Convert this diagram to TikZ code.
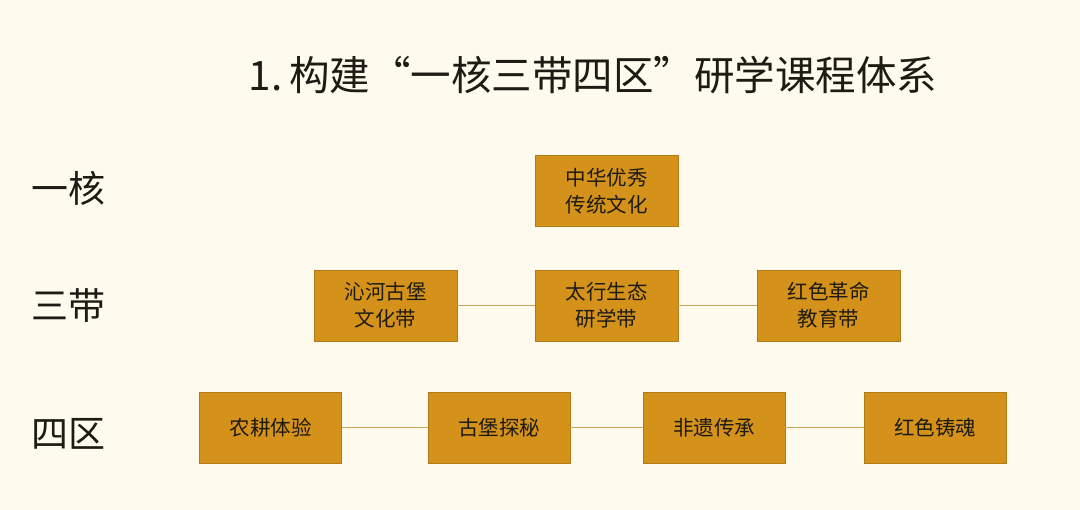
\documentclass[tikz,border=0pt]{standalone}
\usepackage{fontspec}
\newfontfamily\cjk{Noto Sans CJK SC}
\definecolor{bg}{HTML}{FEFBEE}
\definecolor{boxfill}{HTML}{D4921A}
\definecolor{boxline}{HTML}{B07A18}
\definecolor{conn}{HTML}{C9A65A}
\definecolor{ink}{HTML}{1E1A14}
\begin{document}
\begin{tikzpicture}[x=1pt,y=-1pt,
  box/.style={draw=boxline, line width=0.8pt, fill=boxfill, minimum width=143pt, minimum height=71pt,
    inner sep=0pt, align=center, text=ink, font=\cjk\fontsize{20.5}{27}\selectfont},
  conn/.style={draw=conn, line width=1pt},
  rowlabel/.style={text=ink, font=\cjk\fontsize{37}{40}\selectfont, anchor=center},
  titlefont/.style={text=ink, font=\cjk\fontsize{40.5}{44}\selectfont}]
\fill[bg] (0,0) rectangle (1080,510);
\useasboundingbox (0,0) rectangle (1080,510);
\node[titlefont] (title) at (593,75) {1.\,构建“一核三带四区”研学课程体系};
\node[rowlabel] (l1) at (68,188) {一核};
\node[rowlabel] (l2) at (68,306) {三带};
\node[rowlabel] (l3) at (68,434) {四区};
\node[box] (core) at (606.5,191) {中华优秀\\传统文化};
\node[box] (b1) at (385.5,305.5) {沁河古堡\\文化带};
\node[box] (b2) at (606.5,305.5) {太行生态\\研学带};
\node[box] (b3) at (828.5,305.5) {红色革命\\教育带};
\node[box, minimum width=142pt] (z1) at (270.5,427.5) {农耕体验};
\node[box, minimum width=142pt] (z2) at (499,427.5) {古堡探秘};
\node[box, minimum width=142pt] (z3) at (714,427.5) {非遗传承};
\node[box, minimum width=142pt] (z4) at (935,427.5) {红色铸魂};
\draw[conn] (b1) -- (b2);
\draw[conn] (b2) -- (b3);
\draw[conn] (z1) -- (z2);
\draw[conn] (z2) -- (z3);
\draw[conn] (z3) -- (z4);
\end{tikzpicture}
\end{document}
